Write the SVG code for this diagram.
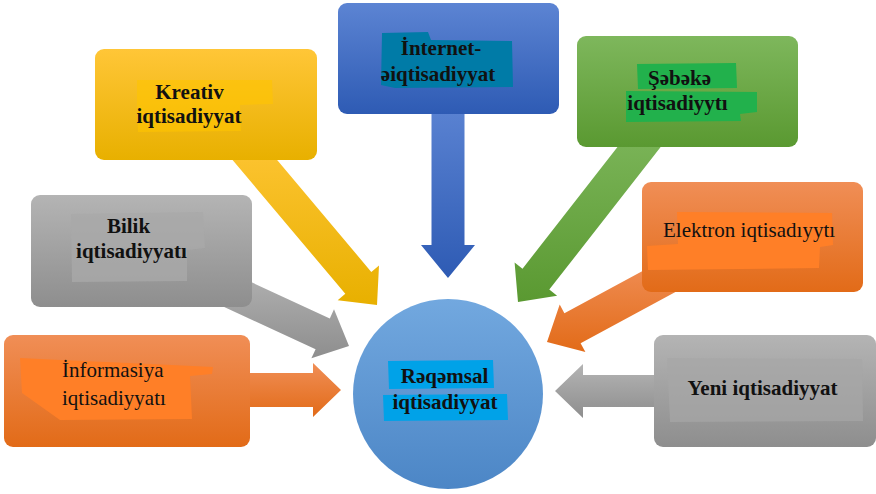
<svg xmlns="http://www.w3.org/2000/svg" width="876" height="494" viewBox="0 0 876 494">
<defs>
<linearGradient id="gY" x1="0" y1="0" x2="0" y2="1"><stop offset="0" stop-color="#FFC637"/><stop offset="1" stop-color="#E8B000"/></linearGradient>
<linearGradient id="gG" x1="0" y1="0" x2="0" y2="1"><stop offset="0" stop-color="#B4B4B4"/><stop offset="1" stop-color="#8E8E8E"/></linearGradient>
<linearGradient id="gO" x1="0" y1="0" x2="0" y2="1"><stop offset="0" stop-color="#F08E56"/><stop offset="1" stop-color="#E26B18"/></linearGradient>
<linearGradient id="gB" x1="0" y1="0" x2="0" y2="1"><stop offset="0" stop-color="#5C84D3"/><stop offset="1" stop-color="#2E5BB4"/></linearGradient>
<linearGradient id="gGr" x1="0" y1="0" x2="0" y2="1"><stop offset="0" stop-color="#7EB75C"/><stop offset="1" stop-color="#5A9931"/></linearGradient>
<linearGradient id="gC" x1="0" y1="0" x2="0" y2="1"><stop offset="0" stop-color="#72A8DF"/><stop offset="1" stop-color="#4C86C6"/></linearGradient>
</defs>
<style>
.t{font-family:"Liberation Serif","Times New Roman",serif;font-size:21px;fill:#111}
.b{font-weight:bold}
.m{text-anchor:middle}
</style>
<g id="connectors">
<polygon fill="url(#gY)" points="225,151 345.3,293.8 337.7,300.2 377,305 379,265.4 371.3,271.9 251,129"/>
<polygon fill="url(#gG)" points="196.7,294.3 315.6,349.3 311.4,358.3 349,346 334,309.3 329.8,318.4 210.9,263.5"/>
<polygon fill="url(#gO)" points="200,373 313,373 313,363 341,390 313,417 313,407 200,407"/>
<polygon fill="url(#gB)" points="431.5,100 431.5,245 421,245 448,278 475,245 464.5,245 464.5,100"/>
<polygon fill="url(#gGr)" points="640.1,118.1 522.5,268.7 514.6,262.5 518,302 557.1,295.8 549.3,289.6 666.9,139.1"/>
<polygon fill="url(#gO)" points="662,260.5 564.4,313.3 559.7,304.5 547,342 585.4,352 580.6,343.2 678.2,290.4"/>
<polygon fill="url(#gG)" points="690,375 583,375 583,364 555,391 583,418 583,407 690,407"/>
</g>
<g id="kreativ">
<rect x="95" y="49" width="222" height="111" rx="9" fill="url(#gY)"/>
<path d="M137,80 L272,80 L273,104 L240,105 L241,131 L138,132 L137,106 Z" fill="#FFC400" opacity="0.6"/>
<text class="t b m" x="189.5" y="99">Kreativ</text>
<text class="t b m" x="189" y="123">iqtisadiyyat</text>
</g>
<g id="internet">
<rect x="338" y="3" width="221" height="111" rx="9" fill="url(#gB)"/>
<path d="M382,33 L428,32 L431,40 L512,41 L513,87 L395,88 L381,85 Z" fill="#007BA7"/>
<text class="t b m" x="441" y="55">İnternet-</text>
<text class="t b m" x="438" y="81">əiqtisadiyyat</text>
</g>
<g id="sebeke">
<rect x="577" y="36" width="221" height="111" rx="9" fill="url(#gGr)"/>
<path d="M637,64 L736,63 L737,88 L638,89 Z" fill="#22B14C"/>
<path d="M626,91 L757,92 L757,112 L740,114 L741,121 L626,122 Z" fill="#22B14C"/>
<text class="t b m" x="679.5" y="85">Şəbəkə</text>
<text class="t b m" x="677.5" y="110">iqtisadiyytı</text>
</g>
<g id="bilik">
<rect x="31" y="195" width="221" height="112" rx="9" fill="url(#gG)"/>
<path d="M71,214 L203,212 L205,248 L187,250 L187,281 L72,282 Z" fill="#A9A9A9" opacity="0.8"/>
<text class="t b m" x="128.5" y="233">Bilik</text>
<text class="t b m" x="131.5" y="258">iqtisadiyyatı</text>
</g>
<g id="informasiya">
<rect x="4" y="335" width="246" height="112" rx="9" fill="url(#gO)"/>
<path d="M20,358 L60,360 L150,364 L213,367 L212,374 L190,376 L192,419 L60,420 L22,393 Z" fill="#FF7F27"/>
<text class="t" x="62" y="377">İnformasiya</text>
<text class="t" x="62" y="405">iqtisadiyyatı</text>
</g>
<g id="elektron">
<rect x="642" y="182" width="221" height="110" rx="9" fill="url(#gO)"/>
<path d="M677,212 L832,213 L833,245 L820,247 L819,268 L648,270 L647,246 L678,244 Z" fill="#FF7F27"/>
<text class="t" x="663" y="237">Elektron iqtisadıyytı</text>
</g>
<g id="yeni">
<rect x="654" y="335" width="222" height="112" rx="9" fill="url(#gG)"/>
<path d="M667,358 L862,359 L863,421 L670,422 Z" fill="#A6A6A6" opacity="0.7"/>
<text class="t b m" x="762.5" y="395">Yeni iqtisadiyyat</text>
</g>
<g id="reqemsal">
<circle cx="448" cy="394" r="95" fill="url(#gC)"/>
<path d="M388,361 L493,360 L494,388 L389,389 Z" fill="#00A2E8"/>
<path d="M383,395 L507,394 L508,420 L384,421 Z" fill="#00A2E8"/>
<text class="t b m" x="444.5" y="383">Rəqəmsal</text>
<text class="t b m" x="445" y="409">iqtisadiyyat</text>
</g>
</svg>
